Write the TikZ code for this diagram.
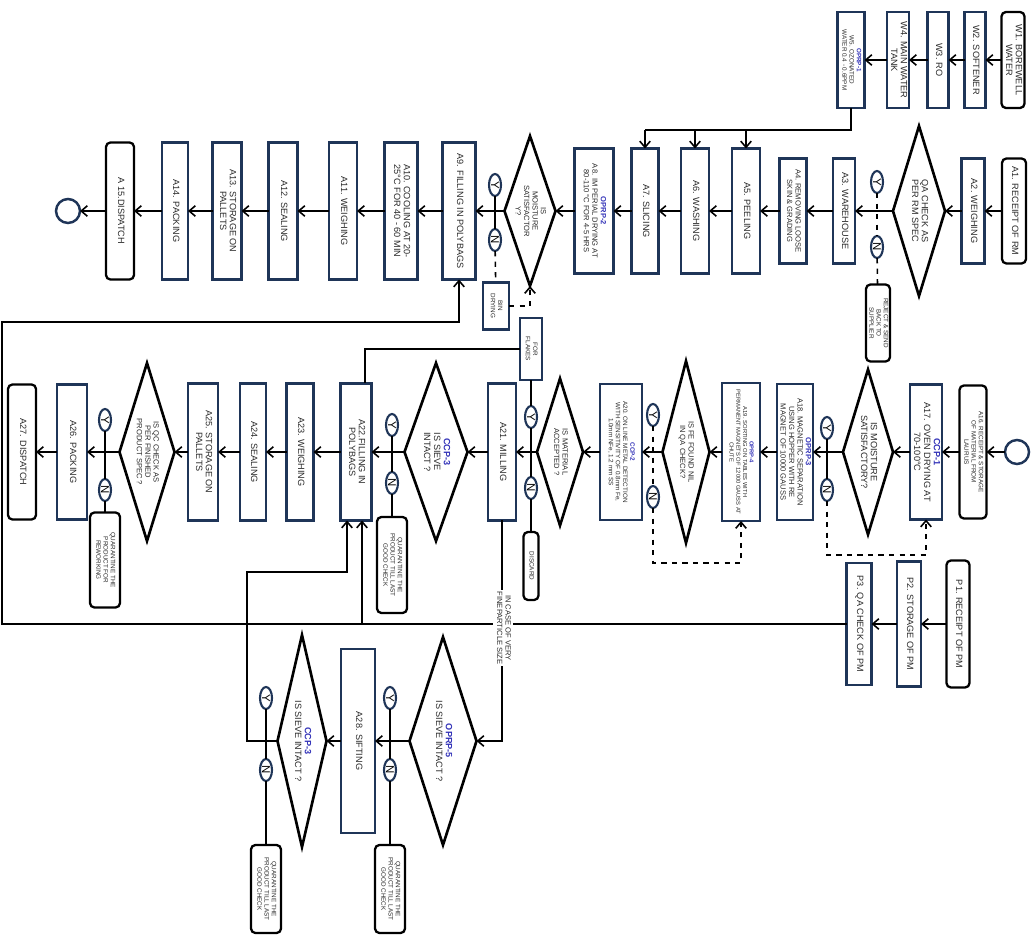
\documentclass[tikz,border=0pt]{standalone}
\usepackage{fontspec}
\setmainfont{Liberation Sans}
\usetikzlibrary{shapes.geometric,arrows.meta}
\definecolor{navy}{HTML}{1F3558}
\definecolor{txt}{HTML}{2A2A2A}
\definecolor{lbl}{HTML}{3434B8}
\newcommand{\rt}[1]{\rotatebox{-90}{\begin{tabular}{@{}c@{}}#1\end{tabular}}}
\newcommand{\lb}[1]{\textcolor{lbl}{\textbf{#1}}}
\begin{document}
\begin{tikzpicture}[x=0.02cm,y=-0.02cm,
  every node/.style={font=\fontsize{5.2}{5.6}\selectfont, text=txt, inner sep=0pt, outer sep=0pt},
  sz/.style 2 args={minimum width=#1*0.02cm, minimum height=#2*0.02cm},
  proc/.style={draw=navy, line width=1.3pt, rectangle},
  term/.style={draw=black, line width=1.3pt, rectangle, rounded corners=2.5pt},
  dec/.style={draw=black, line width=1.5pt, diamond},
  yn/.style={draw=navy, line width=1.2pt, ellipse, minimum width=12*0.02cm, minimum height=22*0.02cm, font=\fontsize{6.5}{6.5}\selectfont, text=black},
  circ/.style={draw=navy, line width=1.4pt, circle, minimum size=24*0.02cm},
  sfont/.style={font=\fontsize{4.3}{4.8}\selectfont},
  tfont/.style={font=\fontsize{3.6}{4.1}\selectfont},
  xfont/.style={font=\fontsize{3.3}{3.8}\selectfont},
  ln/.style={draw=black, line width=0.9pt},
  flow/.style={ln, -{Straight Barb[length=3.5pt,width=6pt,line width=0.9pt]}},
  dashln/.style={ln, dashed},
  dashflow/.style={flow, dashed}
]
\useasboundingbox (0,0) rectangle (1031,935);

% ---------- water line ----------
\node[term,sz={23}{96}] (W1) at (1013,60) {\rt{W1. BOREWELL\\WATER}};
\node[proc,sz={21}{96}] (W2) at (975,60) {\rt{W2. SOFTENER}};
\node[proc,sz={21}{96}] (W3) at (938,60) {\rt{W3. RO}};
\node[proc,sz={22}{96}] (W4) at (898,60) {\rt{W4. MAIN WATER\\TANK}};
\node[proc,sz={27}{96},tfont] (W5) at (851,60) {\rt{\lb{OPRP-1}\\W5. OZONATED\\WATER 0.4 - 0.6PPM}};

% ---------- top row ----------
\node[term,sz={24}{105}] (A1) at (1014,211) {\rt{A1. RECEIPT OF RM}};
\node[proc,sz={23}{105}] (A2) at (973,211) {\rt{A2. WEIGHING}};
\node[dec,sz={52}{170}] (D1) at (919,211) {};
\node (D1t) at (D1) {\rt{QA CHECK AS\\PER RM SPEC}};
\node[yn] (Y1) at (877,182) {\rotatebox{-90}{Y}};
\node[yn] (N1) at (877,247) {\rotatebox{-90}{N}};
\node[term,sz={24}{77},tfont] (R1) at (878,323) {\rt{REJECT \& SEND\\BACK TO\\SUPPLIER}};
\node[proc,sz={22}{105}] (A3) at (844,211) {\rt{A3. WAREHOUSE}};
\node[proc,sz={27}{105},sfont] (A4) at (793,211) {\rt{A4. REMOVING LOOSE\\SKIN \& GRADING}};
\node[proc,sz={28}{125}] (A5) at (746,211) {\rt{A5. PEELING}};
\node[proc,sz={28}{125}] (A6) at (695,211) {\rt{A6. WASHING}};
\node[proc,sz={27}{125}] (A7) at (645,211) {\rt{A7. SLICING}};
\node[proc,sz={39}{125},sfont] (A8) at (594,211) {\rt{\lb{OPRP-2}\\A8. IM PERIAL DRYING AT\\80-110 °C FOR 4-5 HRS}};
\node[dec,sz={51}{150}] (D2) at (530,211) {};
\node[sfont] (D2t) at (D2) {\rt{IS\\MOISTURE\\SATISFACTOR\\Y?}};
\node[yn] (Y2) at (495,185) {\rotatebox{-90}{Y}};
\node[yn] (N2) at (495,240) {\rotatebox{-90}{N}};
\node[proc,sz={26}{47},tfont] (BIN) at (496,306) {\rt{BIN\\DRYING}};
\node[proc,sz={33}{137}] (A9) at (459,211) {\rt{A9. FILLING IN POLYBAGS}};
\node[proc,sz={33}{137}] (A10) at (401,211) {\rt{A10. COOLING AT 20-\\25°C FOR 40 - 60 MIN}};
\node[proc,sz={28}{137}] (A11) at (343,211) {\rt{A11. WEIGHING}};
\node[proc,sz={29}{137}] (A12) at (283,211) {\rt{A12. SEALING}};
\node[proc,sz={29}{137}] (A13) at (227,211) {\rt{A13. STORAGE ON\\PALLETS}};
\node[proc,sz={26}{137}] (A14) at (175,211) {\rt{A14. PACKING}};
\node[term,sz={28}{137}] (A15) at (120,211) {\rt{A 15.DISPATCH}};
\node[circ] (E1) at (68,211) {};

% ---------- middle row ----------
\node[circ] (S2) at (1017,452) {};
\node[term,sz={27}{133},tfont] (A16) at (973,452) {\rt{A16. RECEIPT \& STORAGE\\OF MATERIAL FROM\\LAURUS}};
\node[proc,sz={32}{135}] (A17) at (926,452) {\rt{\lb{CCP-1}\\A17. OVEN DRYING AT\\70-100°C}};
\node[dec,sz={50}{165}] (D3) at (868,452) {};
\node (D3t) at (D3) {\rt{IS MOISTURE\\SATISFACTORY?}};
\node[yn] (Y3) at (827,428) {\rotatebox{-90}{Y}};
\node[yn] (N3) at (827,490) {\rotatebox{-90}{N}};
\node[proc,sz={36}{136},sfont] (A18) at (795,452) {\rt{\lb{OPRP-3}\\A18. MAGNETIC SEPARATION\\USING HOPPER WITH RE\\MAGNET OF 10000 GAUSS}};
\node[proc,sz={38}{138},xfont] (A19) at (741,452) {\rt{\lb{OPRP-4}\\A19. SORTING ON TABLES WITH\\PERMANENT MAGNETS OF 12000 GAUSS AT\\CHUTE}};
\node[dec,sz={47}{182}] (D4) at (686,452) {};
\node[sfont] (D4t) at (D4) {\rt{IS FE FOUND NIL\\IN QA CHECK?}};
\node[yn] (Y4) at (653,415) {\rotatebox{-90}{Y}};
\node[yn] (N4) at (653,497) {\rotatebox{-90}{N}};
\node[proc,sz={42}{136},tfont] (A20) at (621,452) {\rt{\lb{CCP-2}\\A20. ON LINE METAL DETECTION\\WITH SENSITIVITY OF 0.8mm Fe,\\1.0mm NFe, 1.2 mm SS}};
\node[dec,sz={46}{147}] (D5) at (560,452) {};
\node[sfont] (D5t) at (D5) {\rt{IS MATERIAL\\ACCEPTED ?}};
\node[yn] (Y5) at (531,417) {\rotatebox{-90}{Y}};
\node[yn] (N5) at (531,488) {\rotatebox{-90}{N}};
\node[proc,sz={22}{62},tfont] (FF) at (531,349) {\rt{FOR\\FLAKES}};
\node[term,sz={15}{68},tfont] (DIS) at (531,566) {\rt{DISCARD}};
\node[proc,sz={28}{137}] (A21) at (502,452) {\rt{A21. MILLING}};
\node[dec,sz={63}{178}] (D6) at (436,452) {};
\node (D6t) at (D6) {\rt{\lb{CCP-3}\\IS SIEVE\\INTACT ?}};
\node[yn] (Y6) at (392,425) {\rotatebox{-90}{Y}};
\node[yn] (N6) at (392,483) {\rotatebox{-90}{N}};
\node[term,sz={30}{96},tfont] (Q1) at (392,565) {\rt{QUARANTINE THE\\PRODUCT TILL LAST\\GOOD CHECK}};
\node[proc,sz={31}{137}] (A22) at (356,452) {\rt{A22.FILLING IN\\POLYBAGS}};
\node[proc,sz={27}{137}] (A23) at (300,452) {\rt{A23. WEIGHING}};
\node[proc,sz={26}{137}] (A24) at (253,452) {\rt{A24. SEALING}};
\node[proc,sz={30}{137}] (A25) at (203,452) {\rt{A25. STORAGE ON\\PALLETS}};
\node[dec,sz={55}{178}] (D7) at (147,452) {};
\node[sfont] (D7t) at (D7) {\rt{IS QC CHECK AS\\PER FINISHED\\PRODUCT SPEC ?}};
\node[yn] (Y7) at (105,420) {\rotatebox{-90}{Y}};
\node[yn] (N7) at (105,490) {\rotatebox{-90}{N}};
\node[term,sz={30}{95},tfont] (Q2) at (105,560) {\rt{QUARANTINE THE\\PRODUCT FOR\\REWORKING}};
\node[proc,sz={30}{135}] (A26) at (72,452) {\rt{A26. PACKING}};
\node[term,sz={28}{135}] (A27) at (22,452) {\rt{A27. DISPATCH}};

% ---------- packing material row ----------
\node[term,sz={23}{127}] (P1) at (958,624) {\rt{P1. RECEIPT OF PM}};
\node[proc,sz={24}{125}] (P2) at (909,624) {\rt{P2. STORAGE OF PM}};
\node[proc,sz={25}{122}] (P3) at (859,624) {\rt{P3. QA CHECK OF PM}};

% ---------- bottom row ----------
\node[dec,sz={67}{208}] (D8) at (443,741) {};
\node (D8t) at (D8) {\rt{\lb{OPRP-5}\\IS SIEVE INTACT ?}};
\node[yn] (Y8) at (390,698) {\rotatebox{-90}{Y}};
\node[yn] (N8) at (390,770) {\rotatebox{-90}{N}};
\node[term,sz={30}{88},tfont] (Q3) at (390,889) {\rt{QUARANTINE THE\\PRODUCT TILL LAST\\GOOD CHECK}};
\node[proc,sz={34}{184}] (A28) at (358,741) {\rt{A28. SIFTING}};
\node[dec,sz={49}{212}] (D9) at (302,741) {};
\node (D9t) at (D9) {\rt{\lb{CCP-3}\\IS SIEVE INTACT ?}};
\node[yn] (Y9) at (266,698) {\rotatebox{-90}{Y}};
\node[yn] (N9) at (266,770) {\rotatebox{-90}{N}};
\node[term,sz={30}{88},tfont] (Q4) at (266,889) {\rt{QUARANTINE THE\\PRODUCT TILL LAST\\GOOD CHECK}};

% ---------- coordinates ----------
\coordinate (wj) at (851,130);
\coordinate (wl) at (645,130);
\coordinate (d3c) at (827,555);
\coordinate (d4c) at (653,563);
\coordinate (pl1) at (2,624);
\coordinate (pl2) at (2,322);
\coordinate (a22r) at (362,624);
\coordinate (k1) at (247,741);
\coordinate (k2) at (247,572);
\coordinate (k3) at (347,572);
\coordinate (ff1) at (365,349);
\coordinate (m1) at (502,741);

% ---------- connectors: water ----------
\draw[flow] (W1) -- (W2);
\draw[flow] (W2) -- (W3);
\draw[flow] (W3) -- (W4);
\draw[flow] (W4) -- (W5);
\draw[ln] (W5.south) -- (wj) -- (wl);
\draw[flow] (wl) -- (A7.north);
\draw[flow] (A6.north |- wj) -- (A6.north);
\draw[flow] (A5.north |- wj) -- (A5.north);

% ---------- connectors: top row ----------
\draw[flow] (A1) -- (A2);
\draw[flow] (A2) -- (D1);
\draw[flow] (D1) -- (A3);
\draw[dashln] (Y1) -- (N1);
\draw[dashln] (N1) -- (R1);
\draw[flow] (A3) -- (A4);
\draw[flow] (A4) -- (A5);
\draw[flow] (A5) -- (A6);
\draw[flow] (A6) -- (A7);
\draw[flow] (A7) -- (A8);
\draw[flow] (A8) -- (D2);
\draw[flow] (D2) -- (A9);
\draw[ln] (Y2) -- (N2);
\draw[dashln] (N2) -- (BIN);
\draw[dashflow] (BIN.east) -| (D2.south);
\draw[flow] (A9) -- (A10);
\draw[flow] (A10) -- (A11);
\draw[flow] (A11) -- (A12);
\draw[flow] (A12) -- (A13);
\draw[flow] (A13) -- (A14);
\draw[flow] (A14) -- (A15);
\draw[flow] (A15) -- (E1);

% ---------- connectors: middle row ----------
\draw[flow] (S2) -- (A16);
\draw[flow] (A16) -- (A17);
\draw[flow] (A17) -- (D3);
\draw[ln] (Y3) -- (N3);
\draw[dashflow] (N3.south) -- (d3c) -| (A17.south);
\draw[flow] (D3) -- (A18);
\draw[flow] (A18) -- (A19);
\draw[flow] (A19) -- (D4);
\draw[dashln] (Y4) -- (N4);
\draw[dashflow] (N4.south) -- (d4c) -| (A19.south);
\draw[flow] (D4) -- (A20);
\draw[flow] (A20) -- (D5);
\draw[flow] (D5) -- (A21);
\draw[ln] (FF) -- (Y5);
\draw[ln] (Y5) -- (N5);
\draw[ln] (N5) -- (DIS);
\draw[ln] (FF.west) -- (ff1) -- (ff1 |- A22.north);
\draw[flow] (A21) -- (D6);
\draw[flow] (D6) -- (A22);
\draw[ln] (Y6) -- (N6);
\draw[ln] (N6) -- (Q1);
\draw[flow] (A22) -- (A23);
\draw[flow] (A23) -- (A24);
\draw[flow] (A24) -- (A25);
\draw[flow] (A25) -- (D7);
\draw[flow] (D7) -- (A26);
\draw[ln] (Y7) -- (N7);
\draw[ln] (N7) -- (Q2);
\draw[flow] (A26) -- (A27);

% ---------- connectors: packing material ----------
\draw[flow] (P1) -- (P2);
\draw[flow] (P2) -- (P3);
\draw[flow] (P3.west) -- (pl1) -- (pl2) -| (A9.south);
\draw[flow] (a22r) -- (a22r |- A22.south);

% ---------- connectors: sifting branch ----------
\draw[flow] (A21.south) -- (m1) -- (D8.east);
\draw[flow] (D8) -- (A28);
\draw[flow] (A28) -- (D9);
\draw[ln] (Y8) -- (N8);
\draw[ln] (N8) -- (Q3);
\draw[ln] (Y9) -- (N9);
\draw[ln] (N9) -- (Q4);
\draw[flow] (D9.west) -- (k1) -- (k2) -- (k3) -- (k3 |- A22.south);

\node[fill=white,inner sep=1pt,sfont] (fine) at (503,628) {\rt{IN CASE OF VERY\\FINEPARTICLE SIZE}};
\end{tikzpicture}
\end{document}
